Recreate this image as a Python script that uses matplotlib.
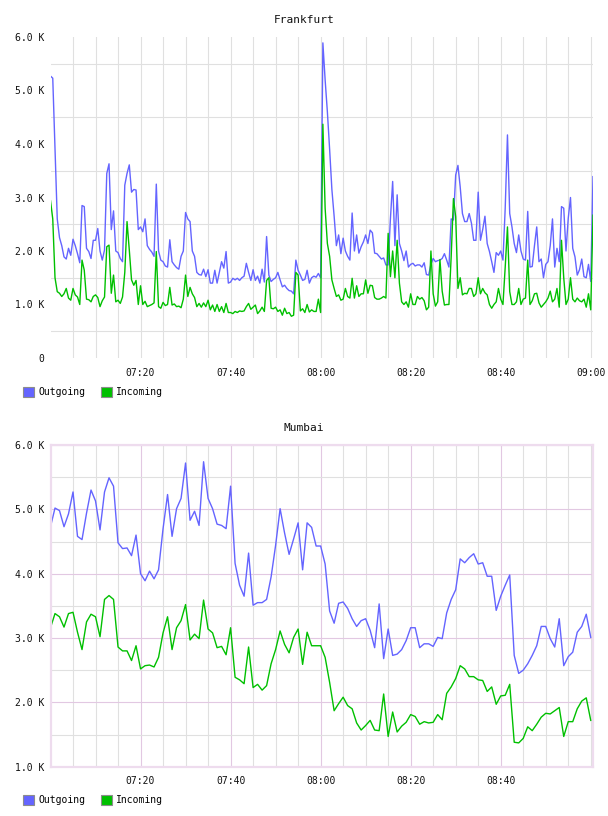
import numpy as np
import matplotlib
matplotlib.use("Agg")
import matplotlib.pyplot as plt
from matplotlib.patches import Patch
from matplotlib.ticker import FuncFormatter, FixedLocator

# ---------------- data ----------------
series_names = ["Outgoing", "Incoming"]
colors = {"Outgoing": "#6464ff", "Incoming": "#00c000"}

# Frankfurt: 30-second samples starting 07:00 (values in K)
frankfurt_step_min = 0.5
frankfurt_outgoing = [
    5.27, 5.23, 3.9, 2.6, 2.25, 2.1, 1.89, 1.85, 2.05, 1.92,
    2.22, 2.1, 1.95, 1.78, 2.85, 2.83, 2.05, 1.99, 1.86, 2.2,
    2.2, 2.42, 2.0, 1.83, 2.02, 3.45, 3.63, 2.4, 2.75, 2.0,
    1.97, 1.86, 1.8, 3.23, 3.45, 3.61, 3.1, 3.15, 3.14, 2.4,
    2.45, 2.36, 2.6, 2.1, 2.03, 1.98, 1.9, 3.25, 2.0, 1.83,
    1.8, 1.72, 1.7, 2.21, 1.8, 1.74, 1.69, 1.66, 1.9, 2.0,
    2.72, 2.6, 2.55, 2.0, 1.9, 1.6, 1.56, 1.55, 1.66, 1.52,
    1.65, 1.4, 1.4, 1.64, 1.40, 1.6, 1.8, 1.68, 1.99, 1.4,
    1.42, 1.49, 1.46, 1.49, 1.45, 1.5, 1.53, 1.77, 1.6, 1.45,
    1.65, 1.45, 1.53, 1.40, 1.66, 1.42, 2.27, 1.55, 1.43, 1.47,
    1.5, 1.6, 1.46, 1.33, 1.36, 1.3, 1.26, 1.25, 1.20, 1.83,
    1.64, 1.55, 1.45, 1.47, 1.64, 1.40, 1.5, 1.53, 1.51, 1.58,
    1.5, 5.89, 5.2, 4.6, 3.9, 3.15, 2.65, 2.1, 2.3, 1.95,
    2.24, 2.0, 1.9, 1.83, 2.71, 2.0, 2.3, 1.96, 2.08, 2.17,
    2.3, 2.14, 2.39, 2.34, 1.96, 1.95, 1.9, 1.85, 1.87, 1.74,
    1.74, 2.6, 3.3, 2.1, 3.05, 2.14, 2.0, 1.82, 2.0, 1.7,
    1.75, 1.77, 1.72, 1.74, 1.74, 1.7, 1.78, 1.56, 1.55, 1.75,
    1.86, 1.8, 1.82, 1.83, 1.86, 1.95, 1.83, 1.7, 2.6, 2.58,
    3.42, 3.6, 3.2, 2.7, 2.55, 2.55, 2.7, 2.52, 2.2, 2.2,
    3.1, 2.2, 2.4, 2.65, 2.14, 1.99, 1.8, 1.6, 1.97, 1.92,
    2.0, 1.83, 2.8, 4.17, 2.7, 2.45, 2.14, 1.97, 2.3, 2.0,
    1.85, 1.83, 2.74, 1.7, 1.71, 2.1, 2.45, 1.8, 1.85, 1.5,
    1.75, 1.8, 2.1, 2.6, 1.7, 2.05, 1.8, 2.83, 2.8, 2.0,
    2.61, 3.0, 2.05, 1.89, 1.55, 1.65, 1.85, 1.52, 1.5, 1.75,
    1.43, 3.39,
]
frankfurt_incoming = [
    2.94, 2.6, 1.5, 1.24, 1.21, 1.15, 1.2, 1.30, 1.12, 1.08,
    1.30, 1.18, 1.14, 1.0, 1.83, 1.64, 1.10, 1.09, 1.05, 1.15,
    1.18, 1.13, 0.96, 1.07, 1.14, 2.08, 2.11, 1.21, 1.55, 1.05,
    1.08, 1.02, 1.14, 1.6, 2.55, 2.02, 1.46, 1.36, 1.45, 1.0,
    1.35, 1.0, 1.06, 0.96, 0.98, 1.0, 1.03, 1.99, 0.96, 0.93,
    1.04, 0.98, 1.0, 1.32, 0.99, 1.01, 0.96, 0.97, 0.94, 1.1,
    1.55, 1.15, 1.32, 1.2, 1.13, 0.96, 1.02, 0.95, 1.03, 0.96,
    1.08, 0.9, 0.99, 0.87, 1.0, 0.87, 0.96, 0.85, 1.02, 0.85,
    0.85, 0.83, 0.87, 0.85, 0.88, 0.87, 0.88, 0.96, 1.02, 0.91,
    0.95, 0.99, 0.83, 0.88, 0.95, 0.87, 1.45, 1.5, 0.93, 0.92,
    0.95, 0.87, 0.9, 0.8, 0.93, 0.83, 0.85, 0.78, 0.8, 1.6,
    1.55, 0.88, 0.92, 0.85, 1.0, 0.86, 0.9, 0.87, 0.87, 1.1,
    0.85, 4.37, 2.8, 2.14, 1.9, 1.46, 1.3, 1.15, 1.18, 1.08,
    1.1, 1.3, 1.15, 1.12, 1.49, 1.12, 1.35, 1.15, 1.2, 1.2,
    1.46, 1.21, 1.36, 1.35, 1.13, 1.10, 1.1, 1.12, 1.15, 1.12,
    2.33, 1.52, 2.0, 1.5, 2.2, 1.4, 1.05, 1.0, 1.05, 0.95,
    1.2, 1.0, 1.0, 1.15, 1.1, 1.13, 1.07, 0.9, 0.95, 2.0,
    1.2, 0.97, 1.05, 1.84, 1.25, 0.99, 1.0, 1.0, 1.9, 2.98,
    2.64, 1.3, 1.5, 1.18, 1.21, 1.2, 1.3, 1.3, 1.15, 1.2,
    1.5, 1.2, 1.3, 1.22, 1.18, 1.0, 0.93, 1.0, 1.05, 1.3,
    1.1, 1.0, 1.7, 2.45, 1.24, 1.0, 1.0, 1.05, 1.3, 1.0,
    1.1, 1.12, 1.83, 1.0, 1.07, 1.2, 1.21, 1.03, 0.95, 1.0,
    1.05, 1.12, 1.25, 1.05, 1.1, 1.3, 0.95, 2.2, 1.5, 1.0,
    1.1, 1.5, 1.1, 1.05, 1.12, 1.07, 1.05, 1.1, 0.95, 1.2,
    0.9, 2.67,
]

# Mumbai: 1-minute samples starting 07:00 (values in K)
mumbai_step_min = 1.0
mumbai_outgoing = [
    4.73, 5.02, 4.98, 4.73, 4.93, 5.27, 4.58, 4.53, 4.94, 5.30,
    5.13, 4.68, 5.27, 5.49, 5.36, 4.48, 4.39, 4.40, 4.28, 4.60,
    4.0, 3.89, 4.04, 3.92, 4.06, 4.70, 5.23, 4.58, 5.01, 5.17,
    5.72, 4.83, 4.97, 4.75, 5.74,
    5.17, 5.01, 4.77, 4.75, 4.70, 5.36, 4.16, 3.82, 3.65, 4.32,
    3.51, 3.55, 3.55, 3.60, 3.95, 4.44, 5.01, 4.63, 4.30, 4.54,
    4.79, 4.06, 4.79, 4.72, 4.43, 4.43, 4.15, 3.42, 3.23, 3.54,
    3.56, 3.46, 3.30, 3.18, 3.27, 3.30, 3.12, 2.85, 3.53, 2.68,
    3.14, 2.73, 2.75, 2.82, 2.96,
    3.16, 3.16, 2.85, 2.91, 2.91, 2.87, 3.01, 2.99, 3.39, 3.60,
    3.75, 4.23, 4.17, 4.25, 4.31, 4.15, 4.17, 3.96, 3.96, 3.43,
    3.65, 3.82, 3.98, 2.73, 2.45, 2.50, 2.60, 2.73, 2.88, 3.18,
    3.18, 2.99, 2.86, 3.30, 2.57, 2.71, 2.78, 3.09, 3.18, 3.37,
    3.01,
]
mumbai_incoming = [
    3.16, 3.38, 3.33, 3.17, 3.38, 3.40, 3.09, 2.82, 3.25, 3.37,
    3.33, 3.02, 3.60, 3.66, 3.60, 2.86, 2.80, 2.80, 2.65, 2.88,
    2.52, 2.57, 2.58, 2.55, 2.70, 3.08, 3.33, 2.82, 3.16, 3.27,
    3.52, 2.97, 3.06, 2.99, 3.59,
    3.14, 3.08, 2.85, 2.87, 2.74, 3.16, 2.39, 2.35, 2.29, 2.86,
    2.23, 2.28, 2.19, 2.26, 2.60, 2.82, 3.11, 2.90, 2.77, 3.01,
    3.14, 2.59, 3.09, 2.88, 2.88, 2.88, 2.70, 2.31, 1.87, 1.98,
    2.08, 1.95, 1.90, 1.68, 1.57, 1.64, 1.72, 1.57, 1.56, 2.13,
    1.47, 1.85, 1.54, 1.63, 1.69,
    1.81, 1.78, 1.66, 1.70, 1.68, 1.69, 1.81, 1.73, 2.14, 2.24,
    2.37, 2.57, 2.52, 2.40, 2.40, 2.35, 2.34, 2.17, 2.24, 1.97,
    2.10, 2.11, 2.28, 1.38, 1.37, 1.44, 1.62, 1.56, 1.66, 1.77,
    1.83, 1.82, 1.87, 1.92, 1.47, 1.70, 1.70, 1.90, 2.02, 2.07,
    1.72,
]

# x-axis ticks (minutes after 07:00) and their labels
frankfurt_tick_min = [20, 40, 60, 80, 100, 120]
frankfurt_tick_labels = ["07:20", "07:40", "08:00", "08:20", "08:40", "09:00"]
mumbai_tick_min = [20, 40, 60, 80, 100]
mumbai_tick_labels = ["07:20", "07:40", "08:00", "08:20", "08:40"]

# ---------------- styling ----------------
MONO = ["DejaVu Sans Mono"]
plt.rcParams["font.family"] = MONO
FS = 7
W, H = 608, 816
fig = plt.figure(figsize=(W / 100, H / 100), dpi=100)
fig.patch.set_facecolor("white")

XMAX = 120.5


def kfmt(v, _):
    if abs(v) < 1e-9:
        return "0"
    return f"{v:.1f} K"


def style_axis(ax, ylo, ticks, labels, framed):
    ax.set_xlim(0, XMAX)
    ax.set_ylim(ylo, 6)
    ax.xaxis.set_major_locator(FixedLocator(ticks))
    ax.set_xticklabels(labels)
    ax.xaxis.set_minor_locator(FixedLocator(list(range(5, 121, 5))))
    ax.yaxis.set_major_locator(FixedLocator(list(range(int(ylo), 7))))
    ax.yaxis.set_major_formatter(FuncFormatter(kfmt))
    ax.yaxis.set_minor_locator(FixedLocator([v + 0.5 for v in range(int(ylo), 6)]))
    ax.tick_params(axis="both", which="both", length=0, labelsize=FS, colors="#111111")
    ax.tick_params(axis="x", pad=7)
    ax.tick_params(axis="y", pad=4.5)
    ax.set_axisbelow(True)
    if framed:
        for s in ax.spines.values():
            s.set_color("#eedcee")
            s.set_linewidth(1.6)
        ax.grid(True, which="major", color="#e2c8e2", linewidth=0.8)
        ax.grid(True, which="minor", color="#e0e0e0", linewidth=0.8)
    else:
        for s in ax.spines.values():
            s.set_visible(False)
        ax.grid(True, which="minor", color="#e0e0e0", linewidth=0.8)
        ax.grid(True, which="major", axis="x", color="#e0e0e0", linewidth=0.8)


def legend_at(ypix):
    handles = [Patch(facecolor=colors[n], edgecolor="#8c8c8c", linewidth=0.8)
               for n in series_names]
    fig.legend(handles, series_names, loc="center left",
               bbox_to_anchor=(23 / W, 1 - ypix / H), ncol=2, frameon=False,
               prop={"family": MONO, "size": FS},
               handlelength=1.15, handleheight=1.15, handletextpad=0.45,
               columnspacing=1.55, borderpad=0, borderaxespad=0)


# Frankfurt panel
ax1 = fig.add_axes([50.5 / W, 1 - 358 / H, 542.5 / W, 321 / H])
style_axis(ax1, 0, frankfurt_tick_min, frankfurt_tick_labels, framed=False)
tf = np.arange(len(frankfurt_outgoing)) * frankfurt_step_min
ax1.plot(tf, frankfurt_outgoing, color=colors["Outgoing"], lw=1.0)
ax1.plot(tf, frankfurt_incoming, color=colors["Incoming"], lw=1.0)
fig.text(0.5, 1 - 20 / H, "Frankfurt", ha="center", va="center",
         fontsize=8, family=MONO, color="#111111")
legend_at(392)

# Mumbai panel
ax2 = fig.add_axes([50.5 / W, 1 - 766.7 / H, 542.5 / W, 321.7 / H])
style_axis(ax2, 1, mumbai_tick_min, mumbai_tick_labels, framed=True)
tm = np.arange(len(mumbai_outgoing)) * mumbai_step_min
ax2.plot(tm, mumbai_outgoing, color=colors["Outgoing"], lw=1.0)
ax2.plot(tm, mumbai_incoming, color=colors["Incoming"], lw=1.0)
fig.text(0.5, 1 - 428 / H, "Mumbai", ha="center", va="center",
         fontsize=8, family=MONO, color="#111111")
legend_at(800)

fig.savefig("out.png", dpi=100, facecolor="white")
